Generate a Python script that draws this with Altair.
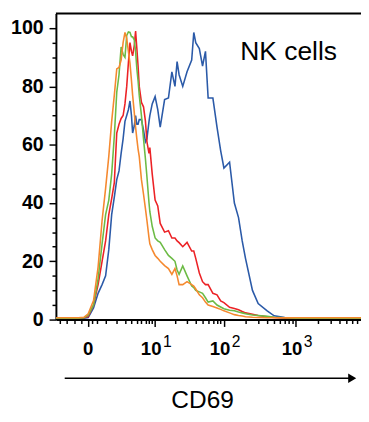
import altair as alt
import pandas as pd

# CD69 fluorescence (biexponential axis) and normalised counts (% of max) per series
cd69 = [-2.4, -1, -0.5, -0.2, 0, 0.25, 0.5, 0.75, 1, 1.25, 1.5, 1.75, 2, 2.25, 2.5, 2.75, 3,
        3.25, 3.5, 3.75, 4, 4.2, 4.5, 4.75, 5, 5.25, 5.5, 6, 6.5, 7, 7.4, 8, 8.25, 9, 10, 11, 12,
        14, 16, 18, 20, 21.5, 23, 26, 30, 35, 37.5, 40, 45, 50, 55, 60, 70, 80, 90, 100, 120,
        140, 160, 180, 200, 250, 300, 400, 500, 700, 1000, 2000, 8000]

blue = [0.5, 0.5, 0.5, 0.5, 0.7, 4, 9, 12, 15, 24, 36, 42, 48, 51, 57, 62, 68,
        70, 72, 75, 70, 64, 66.5, 70, 67, 67, 68.6, 68.6, 65, 61, 62, 68, 70, 74, 76.5, 72, 66,
        75.5, 76, 85, 80, 88.5, 84, 80, 85, 89, 98.5, 95, 93, 87, 92, 76, 76, 66, 58, 52, 54,
        40, 35, 27, 21, 10, 5.5, 3, 1.3, 0.7, 0.5, 0.5, 0.5]

red = [0.5, 0.5, 0.5, 0.6, 1, 5, 12, 20, 27, 36, 41.5, 47, 64, 67, 69, 70, 74,
       80, 88, 95, 92, 90.5, 94, 99, 93, 87, 80, 74.5, 73, 68, 61, 57, 59, 50, 41, 39, 33,
       30, 30.5, 28, 28, 27, 26.4, 25, 26.5, 23.5, 23.5, 21, 16, 13, 12, 12, 9, 8.5, 6.4, 5.8, 4.2,
       3.8, 3.4, 2.8, 2.3, 1.8, 1.4, 1, 0.7, 0.5, 0.5, 0.5, 0.5]

green = [0.5, 0.5, 0.5, 0.6, 1.5, 5, 14, 26, 36, 41, 50, 63, 78, 84, 93.5, 91, 90,
         97.5, 98.7, 98.5, 97, 97, 96, 92, 86, 82, 77, 70, 62, 55, 49, 40, 37, 32, 28, 27, 26.5,
         24, 22, 21, 20, 17, 15.5, 18.4, 15, 11.5, 11, 10, 9.5, 9, 7.5, 6, 6.4, 5, 4.3, 3.7, 3.2,
         3, 2.6, 2.3, 2, 1.6, 1.4, 1.1, 0.8, 0.6, 0.5, 0.5, 0.5]

orange = [0.6, 0.6, 0.6, 0.8, 2, 6.5, 18, 34, 45, 56, 68, 77, 86, 86.5, 89, 95, 98.5,
          96.5, 92, 88, 82, 77, 71, 66, 62, 58.5, 56, 48, 43, 38, 34, 28, 26, 24, 22, 21, 20,
          18.5, 17.5, 15.5, 17.5, 15, 12, 12, 13, 12, 11.5, 10.5, 8.5, 7.5, 6, 5, 4.5, 4, 3.5, 3, 2.3,
          1.7, 1.4, 1.2, 1, 0.8, 0.7, 0.6, 0.6, 0.6, 0.6, 0.6, 0.6]

series_names = ["blue", "red", "green", "orange"]
series_values = [blue, red, green, orange]
series_colors = ["#2b5aa8", "#ec2226", "#6cbb45", "#f5892f"]

# axis ticks
major_x = [0, 10, 100, 1000]
minor_x = [-2, -1.33, -0.74, -0.33, 0.18, 0.44, 1, 2, 3, 4, 5, 6, 7, 8, 9,
           20, 30, 40, 50, 60, 70, 80, 90, 200, 300, 400, 500, 600, 700, 800, 900,
           2000, 3000, 4000, 5000, 6000, 7000]
x_label_base = ["0", "10", "10", "10"]
x_label_exp = ["", "1", "2", "3"]
y_ticks = list(range(0, 105, 5))

W, H = 312, 313
FONT = "Liberation Sans"

xscale = alt.Scale(type="symlog", constant=1.35, domain=[-2.42, 7943], nice=False, zero=False)
yscale = alt.Scale(domain=[0, 105], nice=False, zero=True)

x_axis = alt.Axis(
    values=sorted(major_x + minor_x), labels=False, title=None, grid=False,
    domainColor="black", domainWidth=2, tickColor="black", tickWidth=1.5,
    tickSize={"condition": {"test": "datum.value == 0 || datum.value == 10 || datum.value == 100 || datum.value == 1000", "value": 7}, "value": 4},
)
y_axis = alt.Axis(
    values=y_ticks, title=None, grid=False, labelOverlap=False,
    labelExpr="datum.value % 20 == 0 ? datum.label : ''",
    labelFont=FONT, labelFontSize=20, labelFontWeight="bold", labelColor="black",
    labelPadding=6,
    domainColor="black", domainWidth=2, tickColor="black", tickWidth=1.5,
    tickSize={"condition": {"test": "datum.value % 20 == 0", "value": 7}, "value": 4},
)

x_enc = alt.X("cd69:Q", scale=xscale, axis=x_axis)
y_enc = alt.Y("count:Q", scale=yscale, axis=y_axis)

layers = []
for name, vals, col in zip(series_names, series_values, series_colors):
    df = pd.DataFrame({"cd69": cd69, "count": vals})
    layers.append(
        alt.Chart(df).mark_line(color=col, strokeWidth=1.6, clip=True).encode(x=x_enc, y=y_enc)
    )

ticks_df = pd.DataFrame({"cd69": major_x, "base": x_label_base, "exp": x_label_exp})

zero_label = alt.Chart(ticks_df[ticks_df["base"] == "0"]).mark_text(
    font=FONT, fontSize=19, fontWeight="bold", color="black", align="center", baseline="alphabetic"
).encode(x=x_enc, y=alt.value(349), text="base:N")

ten_label = alt.Chart(ticks_df[ticks_df["base"] == "10"]).mark_text(
    font=FONT, fontSize=19, fontWeight="bold", color="black", align="center", baseline="alphabetic", dx=-4
).encode(x=x_enc, y=alt.value(349), text="base:N")

exp_label = alt.Chart(ticks_df[ticks_df["exp"] != ""]).mark_text(
    font=FONT, fontSize=16, color="black", align="left", baseline="alphabetic", dx=8
).encode(x=x_enc, y=alt.value(341), text="exp:N")

top_border = alt.Chart(pd.DataFrame({"a": [0]})).mark_rule(color="black", strokeWidth=2).encode(
    x=alt.value(0), x2=alt.value(W), y=alt.value(0)
)

arrow_line = alt.Chart(pd.DataFrame({"a": [0]})).mark_rule(color="black", strokeWidth=1.5).encode(
    x=alt.value(9), x2=alt.value(301), y=alt.value(373)
)
arrow_head = alt.Chart(pd.DataFrame({"a": [0]})).mark_point(
    shape="triangle-right", filled=True, color="black", size=90, opacity=1
).encode(x=alt.value(303), y=alt.value(373))

axis_title = alt.Chart(pd.DataFrame({"t": ["CD69"]})).mark_text(
    font=FONT, fontSize=25, color="black", align="center", baseline="alphabetic"
).encode(x=alt.value(150), y=alt.value(403), text="t:N")

panel_title = alt.Chart(pd.DataFrame({"t": ["NK cells"]})).mark_text(
    font=FONT, fontSize=27, color="black", align="center", baseline="alphabetic"
).encode(x=alt.value(238), y=alt.value(48), text="t:N")

chart = alt.layer(
    *layers, zero_label, ten_label, exp_label, top_border, arrow_line, arrow_head, axis_title, panel_title
).properties(
    width=W, height=H,
    autosize=alt.AutoSizeParams(type="none"),
    padding={"left": 49, "top": 1, "right": 0, "bottom": 96},
).configure_view(stroke=None)

chart.save("out.html", embed_options={"renderer": "svg", "actions": False})
